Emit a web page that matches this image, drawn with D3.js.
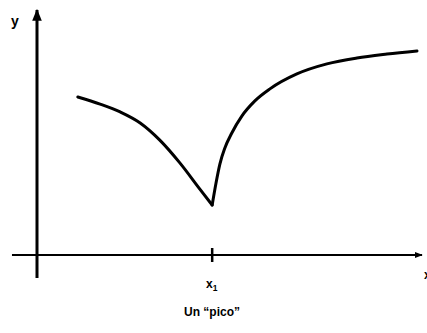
<!DOCTYPE html>
<html>
<head>
<meta charset="utf-8">
<script src="https://cdn.jsdelivr.net/npm/d3@7"></script>
<style>
  body { margin: 0; background: #fff; }
  text { font-family: "Liberation Sans", Arial, sans-serif; font-weight: bold; fill: #000; }
</style>
</head>
<body>
<svg id="chart"></svg>
<script>
// curve (arbitrary units 0..100)
const leftX  = [10.6, 16.4, 21.6, 26.8, 31.9, 37.1, 42.3, 45.5];
const leftY  = [64.5, 61.6, 58.4, 53.9, 46.9, 37.6, 26.9, 20.4];
const rightX = [45.5, 46.5, 47.5, 48.8, 50.6, 53.2, 56.6, 60.5, 67.5, 75.3, 83.1, 90.9, 98.7];
const rightY = [20.4, 29.4, 37.1, 43.7, 49.8, 56.7, 62.9, 67.8, 73.9, 78.0, 80.4, 82.0, 83.3];
const peakX = 45.5;
const tickLabel = "x";
const tickSub = "1";
const title = "Un \u201cpico\u201d";

const width = 427, height = 333;

const svg = d3.select("#chart")
    .attr("width", width)
    .attr("height", height);

// scales
const x = d3.scaleLinear().domain([0, 100]).range([37, 422]);
const y = d3.scaleLinear().domain([0, 100]).range([255, 10]);

// arrow marker
svg.append("defs").append("marker")
    .attr("id", "arrow")
    .attr("viewBox", "0 0 10 10")
    .attr("refX", 9).attr("refY", 5)
    .attr("markerWidth", 4).attr("markerHeight", 4)
    .attr("markerUnits", "strokeWidth")
    .attr("orient", "auto")
  .append("path")
    .attr("d", "M0,1 L10,5 L0,9 Z")
    .attr("fill", "#000");

// x axis
svg.append("line")
    .attr("x1", x(-6.5)).attr("x2", x(100))
    .attr("y1", y(0)).attr("y2", y(0))
    .attr("stroke", "#000").attr("stroke-width", 2)
    .attr("marker-end", "url(#arrow)");

// y axis
svg.append("line")
    .attr("x1", x(0)).attr("x2", x(0))
    .attr("y1", y(-9.4)).attr("y2", y(100))
    .attr("stroke", "#000").attr("stroke-width", 3)
    .attr("marker-end", "url(#arrow)");

// tick at x1
svg.append("line")
    .attr("x1", x(peakX)).attr("x2", x(peakX))
    .attr("y1", y(0) - 7).attr("y2", y(0) + 7)
    .attr("stroke", "#000").attr("stroke-width", 2.5);

const tl = svg.append("text")
    .attr("x", x(peakX) - 0.5)
    .attr("y", 288)
    .attr("text-anchor", "middle")
    .attr("font-size", 12);
tl.append("tspan").text(tickLabel);
tl.append("tspan").attr("font-size", 8.5).attr("dy", 3).text(tickSub);

// axis labels
svg.append("text").attr("x", 11).attr("y", 26).attr("font-size", 14).text("y");
svg.append("text").attr("x", 424).attr("y", 279).attr("font-size", 12).text("x");

// curve, one monotone branch on each side of the peak
const line = d3.line()
    .x(d => x(d[0]))
    .y(d => y(d[1]))
    .curve(d3.curveMonotoneX);

[[leftX, leftY], [rightX, rightY]].forEach(([xs, ys]) => {
    svg.append("path")
        .datum(xs.map((v, i) => [v, ys[i]]))
        .attr("d", line)
        .attr("fill", "none")
        .attr("stroke", "#000")
        .attr("stroke-width", 3)
        .attr("stroke-linecap", "round")
        .attr("stroke-linejoin", "round");
});

// title
svg.append("text")
    .attr("x", 212).attr("y", 316)
    .attr("text-anchor", "middle")
    .attr("font-size", 12)
    .text(title);
</script>
</body>
</html>
